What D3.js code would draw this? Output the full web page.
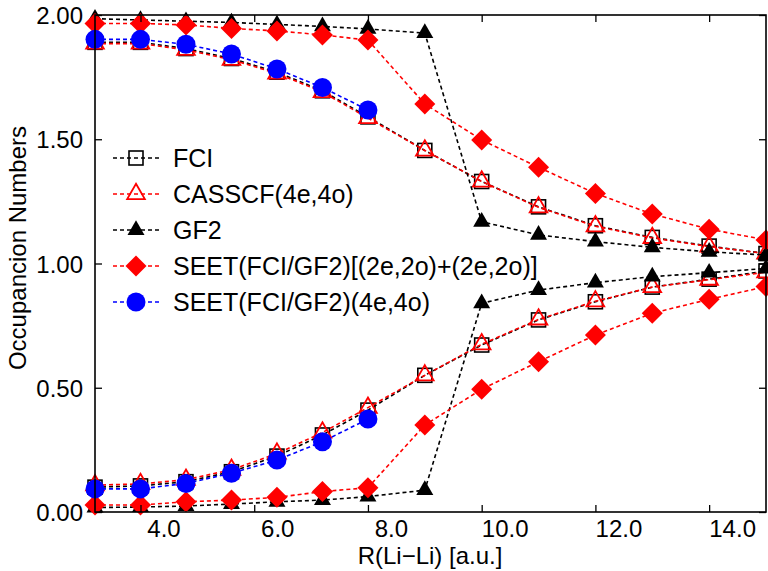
<!DOCTYPE html>
<html>
<head>
<meta charset="utf-8">
<script src="https://cdn.jsdelivr.net/npm/d3@7"></script>
<style>
  body { margin: 0; background: #fff; }
  svg text { font-family: "Liberation Sans", Arial, Helvetica, sans-serif; fill: #000; }
</style>
</head>
<body>
<svg id="chart" width="768" height="571"></svg>
<script>
// bond lengths R(Li-Li) in a.u.
let rValues = [3.2, 4.0, 4.8, 5.6, 6.4, 7.2, 8.0, 9.0, 10.0, 11.0, 12.0, 13.0, 14.0, 15.0];
let rSmall = [3.2, 4.0, 4.8, 5.6, 6.4, 7.2, 8.0];

let fciUpper = [1.89, 1.89, 1.865, 1.825, 1.77, 1.695, 1.59, 1.455, 1.33, 1.228, 1.152, 1.105, 1.07, 1.04];
let fciLower = [0.10, 0.105, 0.122, 0.162, 0.225, 0.31, 0.41, 0.55, 0.672, 0.773, 0.846, 0.905, 0.937, 0.97];
let casUpper = [1.885, 1.885, 1.86, 1.82, 1.765, 1.69, 1.585, 1.455, 1.33, 1.226, 1.15, 1.103, 1.068, 1.04];
let casLower = [0.108, 0.113, 0.13, 0.17, 0.235, 0.32, 0.42, 0.55, 0.675, 0.775, 0.848, 0.905, 0.935, 0.965];
let gf2Upper = [1.985, 1.98, 1.975, 1.97, 1.962, 1.954, 1.944, 1.927, 1.168, 1.115, 1.088, 1.065, 1.047, 1.034];
let gf2Lower = [0.018, 0.02, 0.024, 0.032, 0.041, 0.048, 0.062, 0.088, 0.84, 0.893, 0.923, 0.947, 0.963, 0.98];
let seet22Upper = [1.966, 1.966, 1.96, 1.946, 1.936, 1.92, 1.899, 1.642, 1.497, 1.387, 1.282, 1.199, 1.138, 1.095];
let seet22Lower = [0.028, 0.028, 0.041, 0.048, 0.059, 0.082, 0.098, 0.35, 0.494, 0.605, 0.712, 0.80, 0.856, 0.907];
let seet44Upper = [1.902, 1.902, 1.882, 1.843, 1.783, 1.708, 1.618];
let seet44Lower = [0.093, 0.093, 0.115, 0.156, 0.209, 0.283, 0.374];

let xTicks = [4, 6, 8, 10, 12, 14];
let yTicks = [0, 0.5, 1.0, 1.5, 2.0];
let legendNames = ['FCI', 'CASSCF(4e,4o)', 'GF2', 'SEET(FCI/GF2)[(2e,2o)+(2e,2o)]', 'SEET(FCI/GF2)(4e,4o)'];

let width = 768, height = 571;
let plot = {'left': 95, 'right': 766, 'top': 15, 'bottom': 512};

let series = [
    {'name': legendNames[0], 'x': rValues, 'branches': [fciUpper, fciLower], 'color': '#000', 'marker': 'square'},
    {'name': legendNames[1], 'x': rValues, 'branches': [casUpper, casLower], 'color': '#ff0000', 'marker': 'openTriangle'},
    {'name': legendNames[2], 'x': rValues, 'branches': [gf2Upper, gf2Lower], 'color': '#000', 'marker': 'triangle'},
    {'name': legendNames[3], 'x': rValues, 'branches': [seet22Upper, seet22Lower], 'color': '#ff0000', 'marker': 'diamond'},
    {'name': legendNames[4], 'x': rSmall, 'branches': [seet44Upper, seet44Lower], 'color': '#0000ff', 'marker': 'circle'}
];

let svg = d3.select('#chart');
let xScale = d3.scaleLinear().domain([3.2, 15.0]).range([plot.left, plot.right]);
let yScale = d3.scaleLinear().domain([0, 2]).range([plot.bottom, plot.top]);

function drawMarker(g, type, color) {
    if (type === 'square') {
        g.append('rect').attr('x', -7).attr('y', -7).attr('width', 14).attr('height', 14)
            .attr('fill', 'none').attr('stroke', color).attr('stroke-width', 1.6);
    } else if (type === 'openTriangle') {
        g.append('path').attr('d', d3.symbol().type(d3.symbolTriangle).size(135)())
            .attr('fill', 'none').attr('stroke', color).attr('stroke-width', 1.8);
    } else if (type === 'triangle') {
        g.append('path').attr('d', d3.symbol().type(d3.symbolTriangle).size(125)())
            .attr('fill', color);
    } else if (type === 'diamond') {
        g.append('path').attr('d', 'M0,-10.5L10.5,0L0,10.5L-10.5,0Z').attr('fill', color);
    } else if (type === 'circle') {
        g.append('circle').attr('r', 9.5).attr('fill', color);
    }
}

// lines and markers
let line = d3.line().x(d => xScale(d[0])).y(d => yScale(d[1]));
series.forEach(s => {
    let g = svg.append('g');
    s.branches.forEach(b => {
        let pts = s.x.map((x, i) => [x, b[i]]);
        g.append('path')
            .datum(pts)
            .attr('d', line)
            .attr('fill', 'none')
            .attr('stroke', s.color)
            .attr('stroke-width', 1.6)
            .attr('stroke-dasharray', '4,3');
    });
    s.branches.forEach(b => {
        s.x.forEach((x, i) => {
            let m = g.append('g').attr('transform', `translate(${xScale(x)},${yScale(b[i])})`);
            drawMarker(m, s.marker, s.color);
        });
    });
});

// axes (ticks pointing inward)
let xAxisBottom = d3.axisBottom(xScale).tickValues(xTicks).tickSizeInner(-7).tickSizeOuter(0)
    .tickFormat(d3.format('.1f'));
let xAxisTop = d3.axisTop(xScale).tickValues(xTicks).tickSizeInner(-7).tickSizeOuter(0).tickFormat('');
let yAxisLeft = d3.axisLeft(yScale).tickValues(yTicks).tickSizeInner(-7).tickSizeOuter(0)
    .tickFormat(d3.format('.2f'));
let yAxisRight = d3.axisRight(yScale).tickValues(yTicks).tickSizeInner(-7).tickSizeOuter(0).tickFormat('');

let gxb = svg.append('g').attr('transform', `translate(0,${plot.bottom})`).call(xAxisBottom);
gxb.selectAll('text').attr('font-size', 24).attr('x', 23).attr('y', 25).attr('dy', 0);
svg.append('g').attr('transform', `translate(0,${plot.top})`).call(xAxisTop);
let gyl = svg.append('g').attr('transform', `translate(${plot.left},0)`).call(yAxisLeft);
gyl.selectAll('text').attr('font-size', 24).attr('x', -12).attr('dy', '0.36em');
svg.append('g').attr('transform', `translate(${plot.right},0)`).call(yAxisRight);

svg.selectAll('.domain').remove();
svg.selectAll('.tick line').attr('stroke', '#000').attr('stroke-width', 1.3);
svg.selectAll('.tick text').attr('font-family', '"Liberation Sans", Arial, sans-serif');

// frame
svg.append('rect')
    .attr('x', plot.left).attr('y', plot.top)
    .attr('width', plot.right - plot.left).attr('height', plot.bottom - plot.top)
    .attr('fill', 'none').attr('stroke', '#000').attr('stroke-width', 1.6);

// axis titles
svg.append('text')
    .attr('x', 430).attr('y', 564)
    .attr('text-anchor', 'middle').attr('font-size', 24)
    .text('R(Li\u2212Li) [a.u.]');
svg.append('text')
    .attr('transform', 'translate(26,248) rotate(-90)')
    .attr('text-anchor', 'middle').attr('font-size', 24)
    .text('Occupancion Numbers');

// legend
let legend = svg.append('g');
series.forEach((s, i) => {
    let y = 158 + i * 36;
    let row = legend.append('g').attr('transform', `translate(0,${y})`);
    row.append('line')
        .attr('x1', 113).attr('x2', 159).attr('y1', 0).attr('y2', 0)
        .attr('stroke', s.color).attr('stroke-width', 1.6).attr('stroke-dasharray', '4,3');
    let m = row.append('g').attr('transform', 'translate(136,0)');
    drawMarker(m, s.marker, s.color);
    row.append('text')
        .attr('x', 173).attr('y', 0).attr('dy', '0.36em')
        .attr('font-size', 25)
        .text(s.name);
});
</script>
</body>
</html>
